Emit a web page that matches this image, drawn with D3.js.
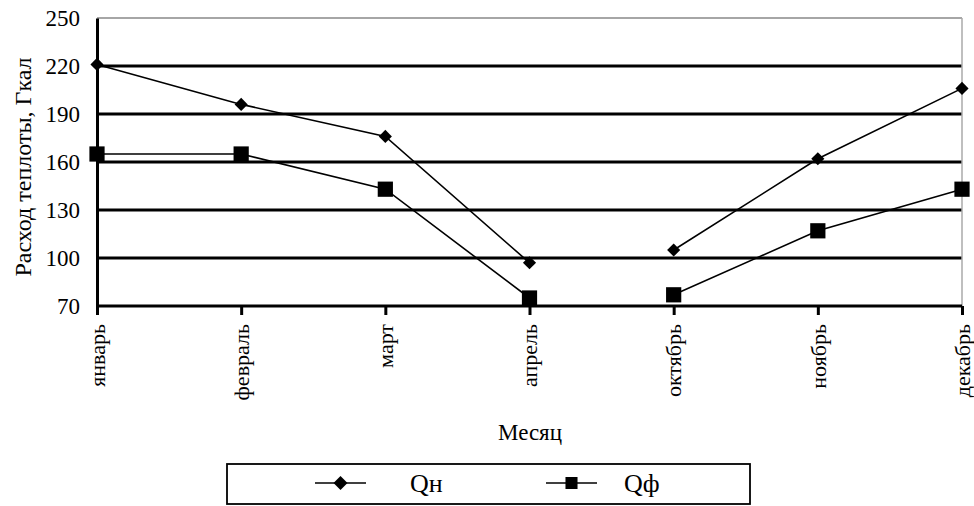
<!DOCTYPE html>
<html>
<head>
<meta charset="utf-8">
<script src="https://cdn.jsdelivr.net/npm/d3@7"></script>
<style>
  html, body { margin: 0; padding: 0; background: #fff; }
  svg { display: block; }
</style>
</head>
<body>
<script>
// Monthly heat consumption, Gcal (heating season only)
const months = ["январь", "февраль", "март", "апрель", "октябрь", "ноябрь", "декабрь"];
const qNorm = [221, 196, 176, 97, 105, 162, 206];   // Qн
const qFact = [165, 165, 143, 75, 77, 117, 143];   // Qф
const yTicks = [70, 100, 130, 160, 190, 220, 250];
const seriesNames = ["Qн", "Qф"];
// spring and autumn parts of the heating season are drawn as separate lines
const seasonParts = [["январь", "февраль", "март", "апрель"], ["октябрь", "ноябрь", "декабрь"]];

const FONT = "'Liberation Serif', 'Times New Roman', Times, serif";

const W = 974, H = 506;
const svg = d3.select("body").append("svg").attr("width", W).attr("height", H)
  .style("font-family", FONT);

const x = d3.scalePoint().domain(months).range([97, 962]);
const y = d3.scaleLinear().domain([70, 250]).range([306, 18]);

// horizontal grid lines
svg.append("g").selectAll("line")
  .data(yTicks.filter(v => v > 70 && v < 250))
  .join("line")
  .attr("x1", x.range()[0]).attr("x2", x.range()[1])
  .attr("y1", d => y(d)).attr("y2", d => y(d))
  .attr("stroke", "#000").attr("stroke-width", 3);

// plot frame: top and right edges in grey
svg.append("line")
  .attr("x1", x.range()[0]).attr("x2", x.range()[1])
  .attr("y1", y(250)).attr("y2", y(250))
  .attr("stroke", "#888").attr("stroke-width", 1.5);
svg.append("line")
  .attr("x1", x.range()[1]).attr("x2", x.range()[1])
  .attr("y1", y(250)).attr("y2", y(70))
  .attr("stroke", "#aaa").attr("stroke-width", 1.5);

// y axis
const yAxis = svg.append("g")
  .attr("transform", `translate(${x.range()[0]},0)`)
  .call(d3.axisLeft(y).tickValues(yTicks).tickSize(0).tickPadding(17));
yAxis.select(".domain").attr("stroke", "#000").attr("stroke-width", 3);
yAxis.selectAll("text").style("font-family", FONT).style("font-size", "23px").attr("fill", "#000");

// x axis
const xAxis = svg.append("g")
  .attr("transform", `translate(0,${y(70)})`)
  .call(d3.axisBottom(x).tickSize(9).tickSizeOuter(0));
xAxis.select(".domain").attr("stroke", "#000").attr("stroke-width", 3)
  .attr("d", `M${x.range()[0]},0H${x.range()[1]}`);
xAxis.selectAll(".tick line").attr("stroke", "#000").attr("stroke-width", 3);
xAxis.selectAll("text")
  .style("font-family", FONT).style("font-size", "22px").attr("fill", "#000")
  .attr("text-anchor", "end")
  .attr("transform", "rotate(-90)")
  .attr("x", -18).attr("y", 0).attr("dy", "0.33em");

// axis titles
svg.append("text")
  .attr("transform", "translate(23,167) rotate(-90)")
  .attr("text-anchor", "middle").attr("dy", "0.35em")
  .style("font-family", FONT).style("font-size", "24px")
  .text("Расход теплоты, Гкал");
svg.append("text")
  .attr("x", 530).attr("y", 440)
  .attr("text-anchor", "middle")
  .style("font-family", FONT).style("font-size", "23px")
  .text("Месяц");

// series lines and markers
const line = d3.line().x(d => x(d.m)).y(d => y(d.v));
const diamond = d3.symbol().type(d3.symbolDiamond2);
const square = d3.symbol().type(d3.symbolSquare2);

[qNorm, qFact].forEach(vals => {
  const pts = months.map((m, i) => ({ m, v: vals[i] }));
  seasonParts.forEach(part => {
    svg.append("path").datum(pts.filter(p => part.includes(p.m)))
      .attr("d", line).attr("fill", "none")
      .attr("stroke", "#000").attr("stroke-width", 1.6);
  });
});

svg.append("g").selectAll("path").data(qNorm).join("path")
  .attr("transform", (d, i) => `translate(${x(months[i])},${y(d)})`)
  .attr("d", diamond.size(110)()).attr("fill", "#000");
svg.append("g").selectAll("path").data(qFact).join("path")
  .attr("transform", (d, i) => `translate(${x(months[i])},${y(d)})`)
  .attr("d", square.size(295)()).attr("fill", "#000");

// legend
const leg = svg.append("g");
leg.append("rect")
  .attr("x", 227).attr("y", 464).attr("width", 523).attr("height", 40)
  .attr("fill", "#fff").attr("stroke", "#000").attr("stroke-width", 1.8);
const legItems = [
  { name: seriesNames[0], x0: 315, sym: diamond.size(125)(), tx: 410 },
  { name: seriesNames[1], x0: 546, sym: square.size(185)(), tx: 624 }
];
legItems.forEach(it => {
  leg.append("line").attr("x1", it.x0).attr("x2", it.x0 + 51)
    .attr("y1", 483).attr("y2", 483).attr("stroke", "#000").attr("stroke-width", 1.6);
  leg.append("path").attr("d", it.sym)
    .attr("transform", `translate(${it.x0 + 25.5},483)`).attr("fill", "#000");
  leg.append("text").attr("x", it.tx).attr("y", 492)
    .style("font-family", FONT).style("font-size", "26px")
    .text(it.name);
});
</script>
</body>
</html>
